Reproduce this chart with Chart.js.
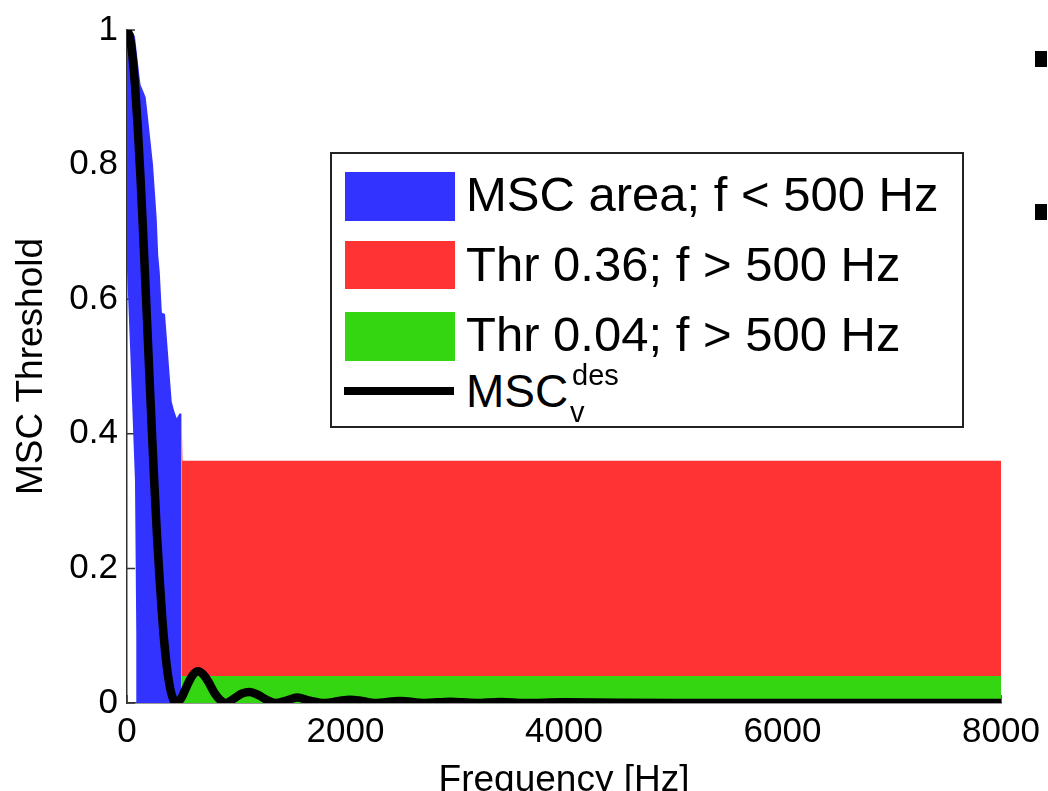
<!DOCTYPE html>
<html>
<head>
<meta charset="utf-8">
<script src="https://cdn.jsdelivr.net/npm/chart.js@4.4.0/dist/chart.umd.min.js"></script>
<style>
  body { margin: 0; background: #fff; }
  #wrap { position: relative; width: 1048px; height: 791px; overflow: hidden; font-family: "Liberation Sans", Arial, sans-serif; }
  #chart { position: absolute; left: 0; top: 0; }
  #legend { position: absolute; left: 330px; top: 152px; width: 630px; height: 272px; border: 2px solid #222; background: #fff; }
  #legend .sw { position: absolute; left: 13px; width: 110px; }
  #legend .txt { position: absolute; left: 134px; font-size: 49px; line-height: 49px; white-space: nowrap; color: #000; }
  .bullet { position: absolute; left: 1035px; width: 12px; height: 16px; background: #000; }
</style>
</head>
<body>
<div id="wrap">
  <canvas id="chart" width="1048" height="791"></canvas>
  <div id="legend"></div>
  <div class="bullet" style="top:51px"></div>
  <div class="bullet" style="top:204px"></div>
</div>
<script>
// axis ticks
const freqTicks = [0, 2000, 4000, 6000, 8000];
const mscTicks = [0, 0.2, 0.4, 0.6, 0.8, 1];

// MSC_v^des curve
const mscFreq = [0, 25, 50, 75, 100, 125, 150, 175, 200, 225, 250, 275, 300, 325, 350, 375, 400, 425, 450,
  500, 550, 600, 650, 700, 750, 800, 850, 905, 975, 1050, 1125, 1200, 1275, 1360, 1450, 1560, 1660, 1815,
  1940, 2040, 2150, 2270, 2500, 2725, 2960, 3190, 3420, 3640, 4000, 5000, 6000, 8000];
const mscValue = [1, 0.99, 0.961, 0.914, 0.851, 0.776, 0.69, 0.599, 0.506, 0.414, 0.327, 0.248, 0.18, 0.121, 0.075, 0.041, 0.018, 0.005, 0,
  0.008, 0.026, 0.041, 0.047, 0.042, 0.03, 0.015, 0.005, 0, 0.006, 0.014, 0.0165, 0.012, 0.005, 0, 0.003, 0.008, 0.004, 0,
  0.003, 0.005, 0.003, 0, 0.003, 0, 0.002, 0, 0.0015, 0, 0.001, 0, 0, 0];

// MSC area below 500 Hz: upper and lower edge
const blueFreq = [0, 60, 73, 115, 125, 134, 171, 192, 238, 272, 286, 300, 317, 320, 348, 409, 430, 455, 480, 500];
const blueTop = [1.0, 0.995, 0.99, 0.93, 0.918, 0.915, 0.9, 0.87, 0.8, 0.72, 0.665, 0.64, 0.586, 0.58, 0.578, 0.448, 0.435, 0.423, 0.43, 0.43];
const blueBaseFreq = [0, 30, 73, 85, 88, 500];
const blueBase = [0.645, 0.52, 0.33, 0.1, 0, 0];

// thresholds above 500 Hz
const redFreq = [500, 508, 8000];
const redValue = [0.43, 0.36, 0.36];
const greenFreq = [500, 8000];
const greenValue = [0.04, 0.04];

const legendNames = ["MSC area; f &lt; 500 Hz", "Thr 0.36; f &gt; 500 Hz", "Thr 0.04; f &gt; 500 Hz", "MSC"];

const BLUE = "#3333ff";
const RED = "#ff3333";
const GREEN = "#33d611";

function toPoints(xs, ys) {
  return xs.map(function (x, i) { return { x: x, y: ys[i] }; });
}

// small inward tick marks, like the original plot
const innerTicks = {
  id: "innerTicks",
  beforeDatasetsDraw(chart) {
    const ctx = chart.ctx;
    const xs = chart.scales.x;
    const ys = chart.scales.y;
    const area = chart.chartArea;
    ctx.save();
    ctx.strokeStyle = "#333";
    ctx.lineWidth = 1.5;
    ctx.beginPath();
    mscTicks.forEach(function (v) {
      const py = ys.getPixelForValue(v);
      ctx.moveTo(area.left, py);
      ctx.lineTo(area.left + 8, py);
    });
    freqTicks.forEach(function (v) {
      const px = xs.getPixelForValue(v);
      ctx.moveTo(px, area.bottom);
      ctx.lineTo(px, area.bottom - 8);
    });
    ctx.stroke();
    ctx.restore();
  },
};

const tickFont = { family: "Liberation Sans", size: 35 };

const myChart = new Chart(document.getElementById("chart"), {
  type: "line",
  data: {
    datasets: [
      {
        label: "MSC_v^des",
        data: toPoints(mscFreq, mscValue),
        borderColor: "#000",
        borderWidth: 8.5,
        pointRadius: 0,
        fill: false,
        cubicInterpolationMode: "monotone",
      },
      {
        label: "Thr 0.04; f > 500 Hz",
        data: toPoints(greenFreq, greenValue),
        borderColor: "rgba(0,0,0,0)",
        backgroundColor: GREEN,
        pointRadius: 0,
        fill: "origin",
      },
      {
        label: "MSC area; f < 500 Hz",
        data: toPoints(blueFreq, blueTop),
        borderColor: "rgba(0,0,0,0)",
        backgroundColor: BLUE,
        pointRadius: 0,
        fill: 3,
      },
      {
        label: "area base",
        data: toPoints(blueBaseFreq, blueBase),
        borderColor: "rgba(0,0,0,0)",
        pointRadius: 0,
        fill: false,
      },
      {
        label: "Thr 0.36; f > 500 Hz",
        data: toPoints(redFreq, redValue),
        borderColor: "rgba(0,0,0,0)",
        backgroundColor: RED,
        pointRadius: 0,
        fill: "origin",
      },
    ],
  },
  options: {
    responsive: false,
    animation: false,
    devicePixelRatio: 1,
    layout: { padding: { top: 27, right: 47, left: 0, bottom: 0 } },
    plugins: { legend: { display: false }, tooltip: { enabled: false } },
    scales: {
      x: {
        type: "linear",
        min: freqTicks[0],
        max: freqTicks[freqTicks.length - 1],
        ticks: {
          stepSize: 2000,
          color: "#000",
          font: tickFont,
          padding: 8,
          maxRotation: 0,
          callback: function (v) { return String(v); },
        },
        grid: { display: false, drawTicks: false },
        border: { display: true, color: "#333", width: 1.5 },
        title: {
          display: true,
          text: "Frequency [Hz]",
          color: "#000",
          font: { family: "Liberation Sans", size: 37, lineHeight: 0.54 },
          padding: { top: 0, bottom: 0 },
        },
        afterFit: function (scale) { scale.height = 88; },
      },
      y: {
        type: "linear",
        min: mscTicks[0],
        max: mscTicks[mscTicks.length - 1],
        ticks: {
          stepSize: 0.2,
          color: "#000",
          font: tickFont,
          padding: 9,
          callback: function (v) { return String(Math.round(v * 10) / 10); },
        },
        grid: { display: false, drawTicks: false },
        border: { display: true, color: "#333", width: 1.5 },
        title: {
          display: true,
          text: "MSC Threshold",
          color: "#000",
          font: { family: "Liberation Sans", size: 37 },
          padding: { top: 10, bottom: 0 },
        },
        afterFit: function (scale) { scale.width = 127; },
      },
    },
  },
  plugins: [innerTicks],
});

// legend drawn as html over the plot, colours taken from the datasets
const legendBox = document.getElementById("legend");
const swatchTops = [18, 87, 158];
const swatchHeights = [49, 48, 49];
const textTops = [16, 86, 156];
[2, 4, 1].forEach(function (dsIndex, i) {
  const sw = document.createElement("div");
  sw.className = "sw";
  sw.style.top = swatchTops[i] + "px";
  sw.style.height = swatchHeights[i] + "px";
  sw.style.background = myChart.data.datasets[dsIndex].backgroundColor;
  legendBox.appendChild(sw);
  const t = document.createElement("div");
  t.className = "txt";
  t.style.top = textTops[i] + "px";
  t.innerHTML = legendNames[i];
  legendBox.appendChild(t);
});
const lineSw = document.createElement("div");
lineSw.className = "sw";
lineSw.style.top = "233px";
lineSw.style.height = "8px";
lineSw.style.left = "12px";
lineSw.style.background = myChart.data.datasets[0].borderColor;
legendBox.appendChild(lineSw);
const mscText = document.createElement("div");
mscText.className = "txt";
mscText.style.cssText = "top:214px;font-size:46px;line-height:46px;";
mscText.innerHTML = legendNames[3] +
  '<span style="position:absolute;left:106px;top:-16px;font-size:29px;">des</span>' +
  '<span style="position:absolute;left:104px;top:21px;font-size:29px;">v</span>';
legendBox.appendChild(mscText);
</script>
</body>
</html>
